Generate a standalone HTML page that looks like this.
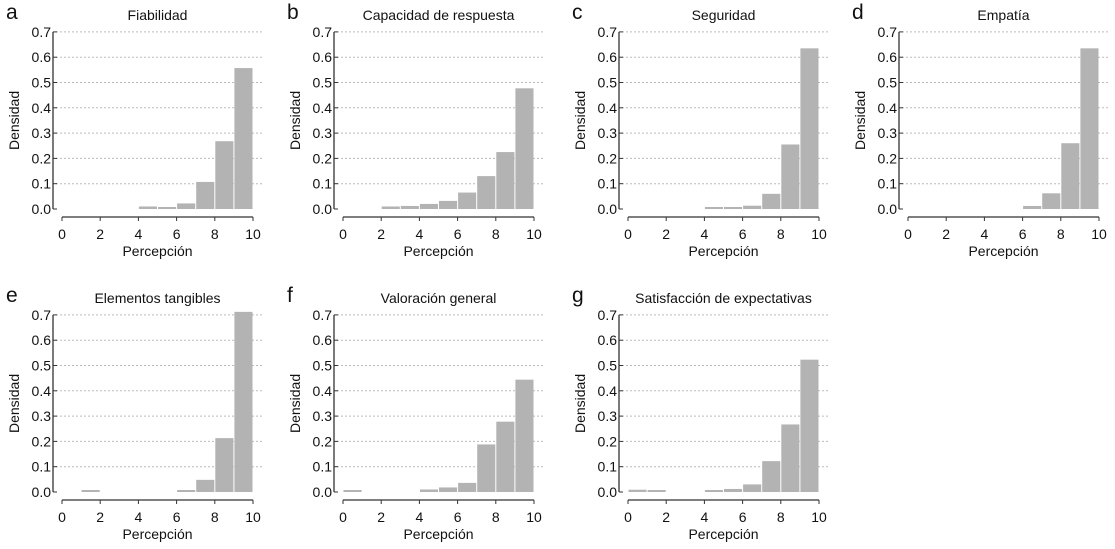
<!DOCTYPE html>
<html><head><meta charset="utf-8"><style>
body{margin:0;background:#fff;width:1115px;height:544px;overflow:hidden}
svg text{font-family:"Liberation Sans",Arial,sans-serif;fill:#111}
</style></head><body>
<svg id="c" width="1115" height="544"></svg>
<script>
const titles=["Fiabilidad","Capacidad de respuesta","Seguridad","Empatía","Elementos tangibles","Valoración general","Satisfacción de expectativas"];
const letters=["a","b","c","d","e","f","g"];
const valsA=[0,0,0,0,0.01,0.007,0.022,0.107,0.268,0.557];
const valsB=[0,0,0.01,0.012,0.02,0.032,0.065,0.13,0.225,0.477];
const valsC=[0,0,0,0,0.007,0.004,0.013,0.06,0.255,0.635];
const valsD=[0,0,0,0,0,0,0.012,0.062,0.26,0.635];
const valsE=[0,0.004,0,0,0,0,0.005,0.048,0.213,0.712];
const valsF=[0.004,0,0,0,0.01,0.018,0.036,0.188,0.278,0.444];
const valsG=[0.009,0.005,0,0,0.006,0.012,0.03,0.122,0.267,0.523];
const yTicks=[0,0.1,0.2,0.3,0.4,0.5,0.6,0.7];
const xTicks=[0,2,4,6,8,10];
const allVals=[valsA,valsB,valsC,valsD,valsE,valsF,valsG];
const origins=[[62,209],[343,209],[628,209],[908,209],[62,492],[343,492],[628,492]];
const svg=document.getElementById('c');const NS="http://www.w3.org/2000/svg";
function mk(t,a,p){const e=document.createElementNS(NS,t);for(const k in a)e.setAttribute(k,a[k]);(p||svg).appendChild(e);return e;}
allVals.forEach((vals,i)=>{
  const [x0,y0]=origins[i];
  const g=mk('g',{});
  
  
  const sx=v=>x0+v*19.1, sy=v=>y0-v*253;
  yTicks.forEach(t=>{
    if(t>0){const l=mk('line',{x1:x0-6,x2:x0+200,y1:sy(t),y2:sy(t),stroke:'#bbb','stroke-dasharray':'2,2','stroke-width':1},g);}
    mk('line',{x1:x0-9,x2:x0-5,y1:sy(t),y2:sy(t),stroke:'#333'},g);
    const tx=mk('text',{x:x0-11,y:sy(t)+5,'text-anchor':'end','font-size':14},g);tx.textContent=t.toFixed(1);
    
  });
  const ya=mk('line',{x1:x0-9,x2:x0-9,y1:sy(0.7),y2:sy(0),stroke:'#333','stroke-width':1.3},g);
  
  vals.forEach((v,k)=>{
    if(v<=0)return;
    const h=Math.max(sy(0)-sy(v),2);
    const r=mk('rect',{x:sx(k)+0.5,y:sy(0)-h,width:18.1,height:h,fill:'#b3b3b3'},g);
    
  });
  const xa=mk('line',{x1:sx(0),x2:sx(10),y1:y0+8,y2:y0+8,stroke:'#333','stroke-width':1.3},g);
  
  xTicks.forEach(t=>{
    mk('line',{x1:sx(t),x2:sx(t),y1:y0+8,y2:y0+12,stroke:'#333'},g);
    const tx=mk('text',{x:sx(t),y:y0+30,'text-anchor':'middle','font-size':14},g);tx.textContent=t;
    
  });
  const xt=mk('text',{x:sx(5),y:y0+47,'text-anchor':'middle','font-size':14},g);xt.textContent='Percepción';
  
  const yt=mk('text',{x:0,y:0,'text-anchor':'middle','font-size':14,transform:`translate(${x0-43},${sy(0.35)}) rotate(-90)`},g);yt.textContent='Densidad';
  
  const tt=mk('text',{x:sx(5),y:y0-189,'text-anchor':'middle','font-size':14},g);tt.textContent=titles[i];
  
  const lt=mk('text',{x:x0-56,y:y0-190,'font-size':21},g);lt.textContent=letters[i];
  
});
</script></body></html>
